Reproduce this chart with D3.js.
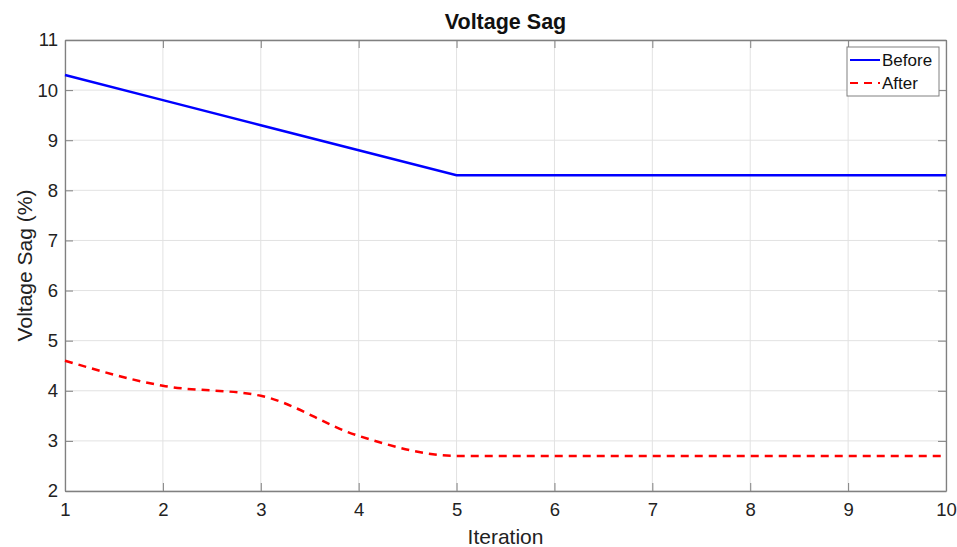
<!DOCTYPE html>
<html lang="en">
<head>
  <meta charset="UTF-8">
  <title>Voltage Sag</title>
  <script src="https://d3js.org/d3.v7.min.js"></script>
  <style>
    * { margin: 0; padding: 0; box-sizing: border-box; }
    body { background: #fff; font-family: Arial, "Liberation Sans", sans-serif; }
    .tick text { font-family: Arial, "Liberation Sans", sans-serif; }
  </style>
</head>
<body>
  <div id="chart"></div>
  <script>
    const iterations = [1, 2, 3, 4, 5, 6, 7, 8, 9, 10];
    const before = [10.3, 9.8, 9.3, 8.8, 8.3, 8.3, 8.3, 8.3, 8.3, 8.3];
    const after = [4.6, 4.1, 3.9, 3.1, 2.7, 2.7, 2.7, 2.7, 2.7, 2.7];
    const xTicks = [1, 2, 3, 4, 5, 6, 7, 8, 9, 10];
    const yTicks = [2, 3, 4, 5, 6, 7, 8, 9, 10, 11];

    const W = 957, H = 547;
    const margin = {top: 40, right: 11, bottom: 56, left: 65},
          width = W - margin.left - margin.right,
          height = H - margin.top - margin.bottom;

    const root = d3.select("#chart").append("svg")
      .attr("width", W).attr("height", H);
    const svg = root.append("g")
      .attr("transform", `translate(${margin.left},${margin.top})`);

    const x = d3.scaleLinear().domain([1, 10]).range([0, width]);
    const y = d3.scaleLinear().domain([2, 11]).range([height, 0]);

    // grid
    svg.append("g").selectAll("line.gx").data(xTicks).enter().append("line")
      .attr("x1", d => x(d)).attr("x2", d => x(d))
      .attr("y1", 0).attr("y2", height)
      .attr("stroke", "#e2e2e2").attr("stroke-width", 1);
    svg.append("g").selectAll("line.gy").data(yTicks).enter().append("line")
      .attr("x1", 0).attr("x2", width)
      .attr("y1", d => y(d)).attr("y2", d => y(d))
      .attr("stroke", "#e2e2e2").attr("stroke-width", 1);

    // axes (ticks pointing inward)
    const xAxis = svg.append("g")
      .attr("transform", `translate(0,${height})`)
      .call(d3.axisBottom(x).tickValues(xTicks).tickSizeInner(-8).tickSizeOuter(0).tickPadding(12));
    const xAxisTop = svg.append("g")
      .call(d3.axisTop(x).tickValues(xTicks).tickSizeInner(-8).tickSizeOuter(0).tickFormat(""));
    const yAxis = svg.append("g")
      .call(d3.axisLeft(y).tickValues(yTicks).tickSizeInner(-8).tickSizeOuter(0).tickPadding(7));
    const yAxisRight = svg.append("g")
      .attr("transform", `translate(${width},0)`)
      .call(d3.axisRight(y).tickValues(yTicks).tickSizeInner(-8).tickSizeOuter(0).tickFormat(""));

    [xAxis, xAxisTop, yAxis, yAxisRight].forEach(a => {
      a.selectAll("line").attr("stroke", "#808080");
      a.select(".domain").attr("stroke", "#808080").attr("stroke-width", 1.3);
      a.selectAll("text").style("font-size", "18.5px").attr("fill", "#222");
    });

    // lines
    const lineB = d3.line().x((d, i) => x(iterations[i])).y(d => y(d));
    const lineA = d3.line().x((d, i) => x(iterations[i])).y(d => y(d)).curve(d3.curveMonotoneX);

    svg.append("path").datum(before)
      .attr("d", lineB).attr("fill", "none")
      .attr("stroke", "#0000ff").attr("stroke-width", 2.5);
    svg.append("path").datum(after)
      .attr("d", lineA).attr("fill", "none")
      .attr("stroke", "#ff0000").attr("stroke-width", 2.5)
      .attr("stroke-dasharray", "8,6");

    // title and labels
    root.append("text")
      .attr("x", margin.left + width / 2).attr("y", 29)
      .attr("text-anchor", "middle")
      .style("font-size", "21.5px").style("font-weight", "bold")
      .attr("fill", "#111")
      .text("Voltage Sag");
    root.append("text")
      .attr("x", margin.left + width / 2).attr("y", 544)
      .attr("text-anchor", "middle")
      .style("font-size", "21px").attr("fill", "#222")
      .text("Iteration");
    root.append("text")
      .attr("transform", `translate(32,${margin.top + height / 2}) rotate(-90)`)
      .attr("text-anchor", "middle")
      .style("font-size", "21px").attr("fill", "#222")
      .text("Voltage Sag (%)");

    // legend
    const legend = root.append("g").attr("transform", "translate(847,47)");
    legend.append("rect")
      .attr("width", 92).attr("height", 49)
      .attr("fill", "#fff").attr("stroke", "#808080").attr("stroke-width", 1);
    const items = [
      {name: "Before", color: "#0000ff", dash: null},
      {name: "After", color: "#ff0000", dash: "8,6"}
    ];
    items.forEach((it, i) => {
      const row = legend.append("g").attr("transform", `translate(0,${13 + i * 23})`);
      row.append("line")
        .attr("x1", 3).attr("x2", 33).attr("y1", 0).attr("y2", 0)
        .attr("stroke", it.color).attr("stroke-width", 2)
        .attr("stroke-dasharray", it.dash);
      row.append("text")
        .attr("x", 35).attr("y", 6)
        .style("font-size", "17px").attr("fill", "#111")
        .text(it.name);
    });
  </script>
</body>
</html>
